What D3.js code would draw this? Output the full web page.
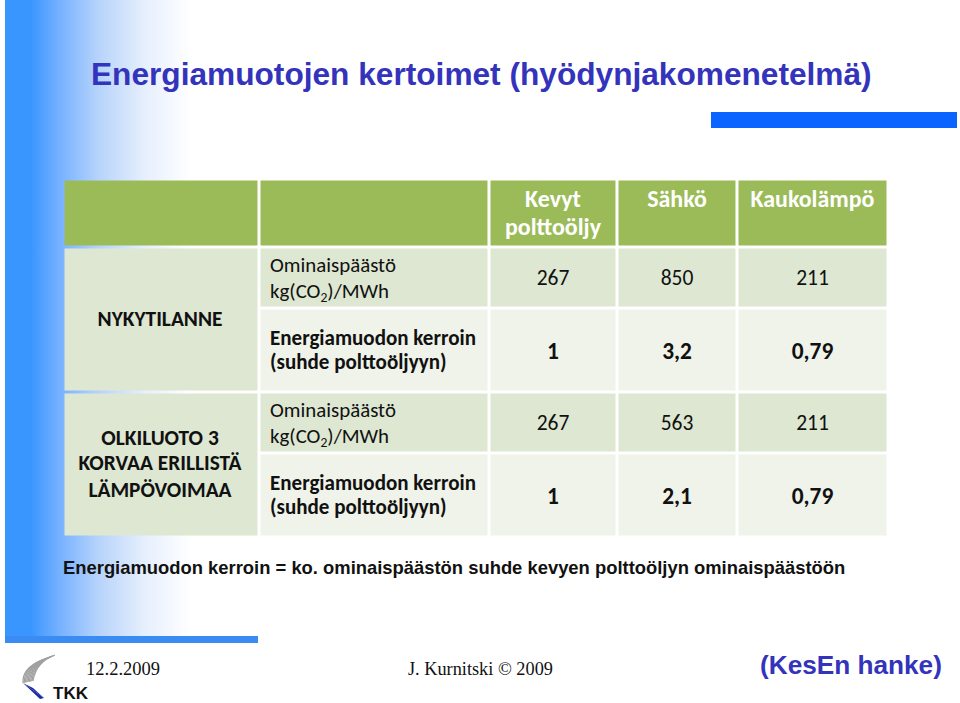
<!DOCTYPE html>
<html><head><meta charset="utf-8">
<script src="https://cdn.jsdelivr.net/npm/d3@7"></script>
<style>body{margin:0;background:#fff}svg{display:block}</style>
</head><body>
<script>
// ---- data ----
const title = "Energiamuotojen kertoimet (hyödynjakomenetelmä)";
const columns = ["Kevyt polttoöljy", "Sähkö", "Kaukolämpö"];
const columnLines = [["Kevyt", "polttoöljy"], ["Sähkö"], ["Kaukolämpö"]];
const scenarios = ["NYKYTILANNE", "OLKILUOTO 3 KORVAA ERILLISTÄ LÄMPÖVOIMAA"];
const scenarioLines = [["NYKYTILANNE"], ["OLKILUOTO 3", "KORVAA ERILLISTÄ", "LÄMPÖVOIMAA"]];
const metrics = ["Ominaispäästö kg(CO2)/MWh", "Energiamuodon kerroin (suhde polttoöljyyn)"];
const emissionNow = ["267", "850", "211"];
const factorNow = ["1", "3,2", "0,79"];
const emissionOL3 = ["267", "563", "211"];
const factorOL3 = ["1", "2,1", "0,79"];
const footnote = "Energiamuodon kerroin = ko. ominaispäästön suhde kevyen polttoöljyn ominaispäästöön";
const footDate = "12.2.2009";
const footAuthor = "J. Kurnitski © 2009";
const footProject = "(KesEn hanke)";

const W = 960, H = 703;
const svg = d3.select("body").append("svg").attr("width", W).attr("height", H);
const defs = svg.append("defs");

// background gradient band
const g = defs.append("linearGradient").attr("id", "bandGrad").attr("x1", 0).attr("x2", 1).attr("y1", 0).attr("y2", 0);
[[0, "#3a96ff"], [0.14, "#3a96ff"], [0.3, "#78b2ff"], [0.5, "#b6d3fb"], [0.75, "#e6effd"], [1, "#ffffff"]]
  .forEach(s => g.append("stop").attr("offset", s[0]).attr("stop-color", s[1]));
svg.append("rect").attr("x", 5).attr("y", 0).attr("width", 186).attr("height", 636).attr("fill", "url(#bandGrad)");
svg.append("rect").attr("x", 5).attr("y", 636).attr("width", 253).attr("height", 7).attr("fill", "#3a8cf2");
svg.append("rect").attr("x", 711).attr("y", 112).attr("width", 246).attr("height", 16).attr("fill", "#0a64ff");

const SANS = "'Liberation Sans', Arial, sans-serif";
const BODY = "Carlito, Lato, 'Open Sans', sans-serif";
const SERIF = "'Liberation Serif', 'Times New Roman', serif";

function fitText(sel, width) {
  const fs = parseFloat(sel.attr("font-size"));
  const w = sel.node().getComputedTextLength();
  sel.attr("font-size", fs * width / w);
  return fs * width / w;
}
function measure(str, fs, weight, fam) {
  const t = svg.append("text").attr("font-size", fs).attr("font-weight", weight).attr("font-family", fam).text(str);
  const w = t.node().getComputedTextLength(); t.remove(); return w;
}

// title
const tt = svg.append("text").attr("x", 91).attr("y", 85).attr("font-family", SANS).attr("font-weight", "bold")
  .attr("font-size", 28).attr("fill", "#3333bb").text(title);
fitText(tt, 781);

// ---- table ----
const colEdges = [63, 259, 489, 617, 737, 888];
const xCol = d3.scaleOrdinal().domain(["scenario", "metric"].concat(columns)).range(colEdges.slice(0, 5));
const wCol = d3.scaleOrdinal().domain(["scenario", "metric"].concat(columns)).range(d3.pairs(colEdges).map(p => p[1] - p[0]));
const rowKeys = ["header", "e0", "f0", "e1", "f1"];
const rowEdges = [179, 247, 308, 392, 453, 537];
const yRow = d3.scaleOrdinal().domain(rowKeys).range(rowEdges.slice(0, 5));
const hRow = d3.scaleOrdinal().domain(rowKeys).range(d3.pairs(rowEdges).map(p => p[1] - p[0]));

const HEAD = "#9bbb59", BAND1 = "#dde7d1", BAND2 = "#eff3e9";
const tbl = svg.append("g");
const gap = 1.5;
function cell(col, row, fill, rowSpan) {
  const y0 = yRow(row);
  const y1 = rowSpan ? yRow(rowSpan) + hRow(rowSpan) : y0 + hRow(row);
  tbl.append("rect").attr("x", xCol(col) + gap).attr("y", y0 + gap)
    .attr("width", wCol(col) - 2 * gap).attr("height", y1 - y0 - 2 * gap).attr("fill", fill);
}
["scenario", "metric"].concat(columns).forEach(c => cell(c, "header", HEAD));
cell("scenario", "e0", BAND1, "f0");
cell("scenario", "e1", BAND1, "f1");
["e0", "f0", "e1", "f1"].forEach(r => {
  const fill = r[0] === "e" ? BAND1 : BAND2;
  cell("metric", r, fill);
  columns.forEach(c => cell(c, r, fill));
});

const bodyFs = 18 * 126 / measure("Ominaispäästö", 18, "normal", BODY);
const boldFs = 18 * 206 / measure("Energiamuodon kerroin", 18, "bold", BODY);
const headFs = 18 * 124 / measure("Kaukolämpö", 18, "bold", BODY);
const scenFs = 18 * 163 / measure("KORVAA ERILLISTÄ", 18, "bold", BODY);

columns.forEach((c, i) => {
  const lines = columnLines[i];
  const cx = xCol(c) + wCol(c) / 2;
  const base = lines.length === 2 ? [207, 235] : [207];
  lines.forEach((l, j) => tbl.append("text").attr("x", cx).attr("y", base[j]).attr("text-anchor", "middle")
    .attr("font-family", BODY).attr("font-weight", "bold").attr("font-size", headFs).attr("fill", "#ffffff").text(l));
});

const scenBase = [[326], [445, 470, 497]];
scenarios.forEach((s, i) => {
  scenarioLines[i].forEach((l, j) => tbl.append("text").attr("x", xCol("scenario") + wCol("scenario") / 2 - 1).attr("y", scenBase[i][j])
    .attr("text-anchor", "middle").attr("font-family", BODY).attr("font-weight", "bold").attr("font-size", scenFs)
    .attr("fill", "#111").text(l));
});

function metricLabel(row, kind) {
  const y0 = yRow(row);
  if (kind === "e") {
    const base = y0 + 25;
    tbl.append("text").attr("x", 270).attr("y", base).attr("font-family", BODY).attr("font-size", bodyFs).attr("fill", "#111").text("Ominaispäästö");
    const t = tbl.append("text").attr("x", 270).attr("y", base + 26).attr("font-family", BODY).attr("font-size", bodyFs).attr("fill", "#111");
    t.append("tspan").text("kg(CO");
    t.append("tspan").attr("font-size", bodyFs * 0.65).attr("dy", 4).text("2");
    t.append("tspan").attr("dy", -4).text(")/MWh");
  } else {
    const base = y0 + 37;
    tbl.append("text").attr("x", 270).attr("y", base).attr("font-family", BODY).attr("font-weight", "bold").attr("font-size", boldFs).attr("fill", "#111").text("Energiamuodon kerroin");
    tbl.append("text").attr("x", 270).attr("y", base + 24).attr("font-family", BODY).attr("font-weight", "bold").attr("font-size", boldFs).attr("fill", "#111").text("(suhde polttoöljyyn)");
  }
}
metricLabel("e0", "e"); metricLabel("f0", "f"); metricLabel("e1", "e"); metricLabel("f1", "f");

function valueRow(row, vals, bold, dy) {
  columns.forEach((c, i) => tbl.append("text").attr("x", xCol(c) + wCol(c) / 2).attr("y", yRow(row) + dy)
    .attr("text-anchor", "middle").attr("font-family", BODY).attr("font-weight", bold ? "bold" : "normal")
    .attr("font-size", bold ? bodyFs * 1.12 : bodyFs * 1.03).attr("fill", "#111").text(vals[i]));
}
valueRow("e0", emissionNow, false, 38);
valueRow("f0", factorNow, true, 51);
valueRow("e1", emissionOL3, false, 38);
valueRow("f1", factorOL3, true, 51);

const fn = svg.append("text").attr("x", 63).attr("y", 574).attr("font-family", SANS).attr("font-weight", "bold")
  .attr("font-size", 17).attr("fill", "#111").text(footnote);
fitText(fn, 783);

const fd = svg.append("text").attr("x", 86).attr("y", 675).attr("font-family", SERIF).attr("font-size", 17).attr("fill", "#111").text(footDate);
fitText(fd, 74);
const fa = svg.append("text").attr("x", 408).attr("y", 675).attr("font-family", SERIF).attr("font-size", 17).attr("fill", "#111").text(footAuthor);
fitText(fa, 145);
const fp = svg.append("text").attr("x", 760).attr("y", 674).attr("font-family", SANS).attr("font-weight", "bold").attr("font-size", 22).attr("fill", "#3333bb").text(footProject);
fitText(fp, 182);

// TKK logo
const logo = svg.append("g");
for (let i = 0; i < 9; i++) {
  const t = i / 8;
  const x0 = 23 + t * 10, y0 = 683 - t * 2;
  const x1 = 42 + t * 13, y1 = 660 - t * 5;
  const cx = 22 + t * 14, cy = 668 - t * 6;
  logo.append("path").attr("d", `M ${x0} ${y0} Q ${cx} ${cy} ${x1} ${y1}`)
    .attr("fill", "none").attr("stroke", "#a0a0a0").attr("stroke-width", 1.3);
}
logo.append("path").attr("d", "M 23 683 L 44 698 L 33 688 Z").attr("fill", "#1a2aa0");
logo.append("path").attr("d", "M 23 683 L 44 698 L 40 699 Z").attr("fill", "#1a2aa0");
logo.append("text").attr("x", 53).attr("y", 699).attr("font-family", SANS).attr("font-weight", "bold").attr("font-size", 17).attr("fill", "#111").text("TKK");
</script>
</body></html>
